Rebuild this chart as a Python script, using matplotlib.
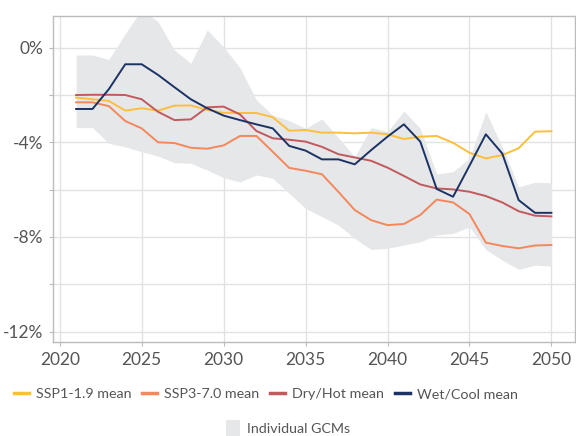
import matplotlib.pyplot as plt
import numpy as np
from matplotlib.lines import Line2D
from matplotlib.patches import Patch
from matplotlib.ticker import FixedLocator, FuncFormatter, MultipleLocator

plt.rcParams["font.family"] = ["Lato", "DejaVu Sans"]

years = list(range(2021, 2051))

ssp1_mean = [-2.11, -2.18, -2.25, -2.66, -2.56, -2.66, -2.45, -2.44, -2.63, -2.75,
             -2.76, -2.76, -2.94, -3.51, -3.48, -3.59, -3.59, -3.62, -3.59, -3.66,
             -3.86, -3.76, -3.73, -4.02, -4.44, -4.68, -4.54, -4.25, -3.55, -3.53]
ssp3_mean = [-2.31, -2.31, -2.47, -3.10, -3.41, -4.00, -4.03, -4.23, -4.27, -4.13,
             -3.73, -3.73, -4.40, -5.08, -5.20, -5.35, -6.09, -6.86, -7.29, -7.50,
             -7.45, -7.07, -6.42, -6.54, -7.03, -8.24, -8.38, -8.48, -8.36, -8.34]
dryhot_mean = [-2.00, -1.99, -1.99, -2.00, -2.18, -2.71, -3.06, -3.03, -2.52, -2.49,
               -2.82, -3.52, -3.83, -3.89, -3.97, -4.19, -4.50, -4.64, -4.78, -5.07,
               -5.42, -5.78, -5.95, -5.99, -6.09, -6.27, -6.54, -6.91, -7.10, -7.13]
wetcool_mean = [-2.59, -2.59, -1.75, -0.70, -0.70, -1.15, -1.67, -2.18, -2.56, -2.87,
                -3.06, -3.24, -3.41, -4.15, -4.35, -4.72, -4.72, -4.93, -4.33, -3.76,
                -3.24, -3.97, -5.97, -6.30, -4.99, -3.66, -4.47, -6.44, -6.98, -6.98]
gcm_upper = [-0.31, -0.31, -0.50, 0.60, 1.60, 1.10, -0.10, -0.66, 0.75, 0.04,
             -0.85, -2.21, -2.85, -3.08, -3.41, -3.01, -3.80, -4.61, -3.38, -3.55,
             -2.68, -3.41, -5.34, -5.24, -4.68, -2.71, -4.19, -5.88, -5.69, -5.71]
gcm_lower = [-3.38, -3.38, -4.04, -4.19, -4.40, -4.58, -4.86, -4.89, -5.17, -5.50,
             -5.67, -5.38, -5.52, -6.16, -6.79, -7.14, -7.50, -8.06, -8.53, -8.48,
             -8.34, -8.20, -7.92, -7.85, -7.57, -8.53, -8.98, -9.37, -9.19, -9.23]

series = [
    ("SSP1-1.9 mean", ssp1_mean, "#FDBE3C"),
    ("SSP3-7.0 mean", ssp3_mean, "#F5875A"),
    ("Dry/Hot mean", dryhot_mean, "#C2595C"),
    ("Wet/Cool mean", wetcool_mean, "#1B3264"),
]
band_color = "#E6E7E9"
text_color = "#555555"

fig = plt.figure(figsize=(5.76, 4.36), dpi=100)
ax = fig.add_axes([53 / 576, 1 - 342 / 436, 522 / 576, 326 / 436])

ax.fill_between(years, gcm_lower, gcm_upper, color=band_color, lw=0, zorder=1)
for name, values, color in series:
    ax.plot(years, values, color=color, lw=1.4, zorder=3)

ax.set_xlim(2019.59, 2051.44)
ax.set_ylim(-12.44, 1.34)

ax.xaxis.set_major_locator(FixedLocator(range(2020, 2051, 5)))
ax.yaxis.set_major_locator(MultipleLocator(4))
ax.yaxis.set_minor_locator(MultipleLocator(2))
ax.yaxis.set_major_formatter(FuncFormatter(lambda v, p: f"{v:.0f}%"))

ax.grid(True, which="major", color="#E2E2E4", lw=1.0, zorder=0)
ax.grid(True, which="minor", axis="y", color="#E2E2E4", lw=1.0, zorder=0)
ax.set_axisbelow(True)

for spine in ax.spines.values():
    spine.set_color("#BBBBC0")
    spine.set_linewidth(1.0)

ax.tick_params(axis="both", which="major", labelsize=12.5, colors="#BBBBC0",
               labelcolor=text_color, length=3, width=0.8, pad=4)
ax.tick_params(axis="y", which="minor", colors="#BBBBC0", length=3, width=0.8)

# legend: line means on one row, GCM band below
line_handles = [Line2D([], [], color=c, lw=2.5) for _, _, c in series]
fig.legend(line_handles, [n for n, _, _ in series], loc="center",
           bbox_to_anchor=(266 / 576, 1 - 394 / 436), ncol=4, frameon=False,
           fontsize=10.3, labelcolor=text_color, handlelength=1.05,
           handletextpad=0.5, columnspacing=0.75, borderaxespad=0)
fig.legend([Patch(facecolor=band_color, edgecolor="none")], ["Individual GCMs"],
           loc="center", bbox_to_anchor=(0.5, 1 - 428 / 436), frameon=False,
           fontsize=10.3, labelcolor=text_color, handlelength=1.0,
           handleheight=1.3, handletextpad=0.5, borderaxespad=0)

fig.savefig("out.png", dpi=100)
